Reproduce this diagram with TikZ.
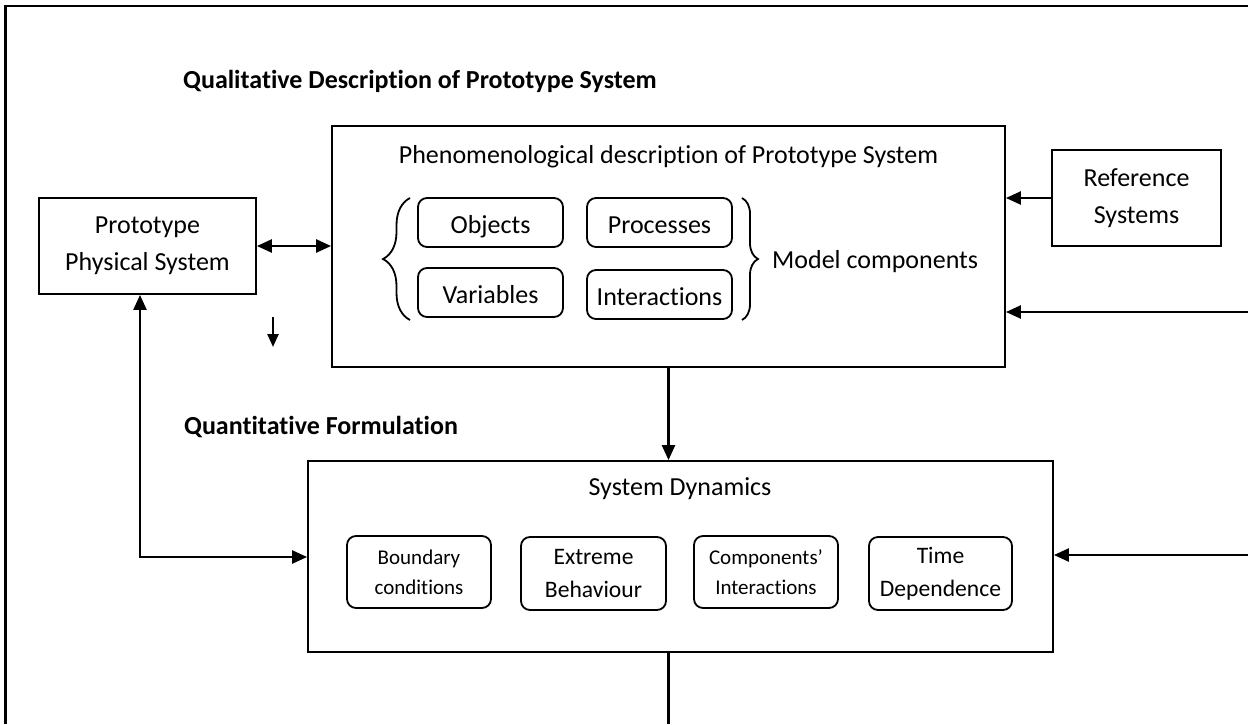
\documentclass[tikz,border=0pt]{standalone}
\usepackage{fontspec}
\setmainfont{Carlito}[Ligatures={CommonOff}]
\usetikzlibrary{arrows.meta,decorations.pathreplacing}
\begin{document}
\begin{tikzpicture}[x=1pt,y=-1pt,
  box/.style={draw, line width=1.8pt, rectangle, inner sep=0pt, align=center},
  rbox/.style={draw, line width=1.8pt, rounded corners=9pt, inner sep=0pt, align=center},
  oneline/.style={text height=21pt, text depth=0pt},
  big/.style={font=\fontsize{26}{37}\selectfont},
  mid/.style={font=\fontsize{23.6}{33}\selectfont},
  small/.style={font=\fontsize{21}{30}\selectfont},
  head/.style={font=\fontsize{26}{37}\selectfont\bfseries, anchor=base west, inner sep=0pt},
  txt/.style={inner sep=0pt},
  conn/.style={line width=2.4pt, -{Triangle[length=15pt,width=13pt]}},
  dconn/.style={line width=2.4pt, {Triangle[length=15pt,width=13pt]}-{Triangle[length=15pt,width=13pt]}},
  brc/.style={line width=1.8pt, decorate}
]
\useasboundingbox (0,0) rectangle (1248,724);

% outer frame
\draw[line width=2.2pt] (5.5,724) -- (5.5,6) -- (1248,6);

% section headings
\node[head] (qual) at (183,88) {Qualitative Description of Prototype System};
\node[head] (quant) at (184,434) {Quantitative Formulation};

% prototype and reference systems
\node[box, big, minimum width=217pt, minimum height=96pt] (proto) at (147.5,246) {Prototype\\Physical System};
\node[box, big, minimum width=169pt, minimum height=96pt] (ref) at (1136.5,198) {Reference\\Systems};

% phenomenological description
\node[box, minimum width=673pt, minimum height=241pt] (phen) at (668.5,246.5) {};
\node[big, txt, anchor=base] (phentitle) at (668.5,163) {Phenomenological description of Prototype System};
\node[rbox, big, oneline, minimum width=145pt, minimum height=49pt] (obj) at (490.5,222.5) {Objects};
\node[rbox, big, oneline, minimum width=145pt, minimum height=49pt] (proc) at (659.5,222.5) {Processes};
\node[rbox, big, oneline, minimum width=145pt, minimum height=49pt] (var) at (490.5,292.5) {Variables};
\node[rbox, big, oneline, minimum width=145pt, minimum height=49pt] (inter) at (659.5,294.5) {Interactions};
\draw[brc, decoration={brace, amplitude=27pt}] (410,320) -- (410,198);
\draw[brc, decoration={brace, amplitude=16pt}] (742,198) -- (742,320);
\node[big, txt, anchor=base west] (mc) at (772,268) {Model components};

% system dynamics
\node[box, minimum width=745pt, minimum height=191pt] (sd) at (680.5,556.5) {};
\node[big, txt, anchor=base] (sdtitle) at (680,495) {System Dynamics};
\node[rbox, small, minimum width=144pt, minimum height=72pt] (bound) at (419,572) {Boundary\\conditions};
\node[rbox, mid, minimum width=145pt, minimum height=73pt] (extr) at (593.5,573.5) {Extreme\\Behaviour};
\node[rbox, small, minimum width=144pt, minimum height=72pt] (comp) at (766,572) {Components’\\Interactions};
\node[rbox, mid, minimum width=143pt, minimum height=73pt] (time) at (940.5,573.5) {Time\\Dependence};

% connectors
\coordinate (s1) at (273,317);
\coordinate (s2) at (273,347);
\coordinate (corner) at (140,557);
\coordinate (rin1) at (1248,312);
\coordinate (rin2) at (1248,555);
\coordinate (bout) at (668.5,724);

\draw[dconn] (proto.east) -- (proto.east -| phen.west);
\draw[line width=2.4pt, -{Triangle[length=13pt,width=11pt]}] (s1) -- (s2);
\draw[dconn] (corner |- proto.south) -- (corner) -- (corner -| sd.west);
\draw[conn] (phen.south) -- (phen.south |- sd.north);
\draw[conn] (ref.west) -- (ref.west -| phen.east);
\draw[conn] (rin1) -- (rin1 -| phen.east);
\draw[conn] (rin2) -- (rin2 -| sd.east);
\draw[line width=2.4pt] (phen.south |- sd.south) -- (bout);
\end{tikzpicture}
\end{document}
